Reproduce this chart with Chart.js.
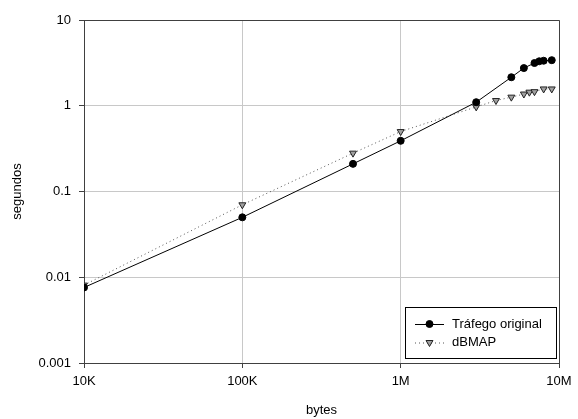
<!DOCTYPE html>
<html>
<head>
<meta charset="utf-8">
<script src="https://cdn.jsdelivr.net/npm/chart.js@4/dist/chart.umd.min.js"></script>
<style>
  html, body { margin: 0; padding: 0; background: #fff; }
  #wrap { width: 578px; height: 419px; }
</style>
</head>
<body>
<div id="wrap"><canvas id="chart" width="578" height="419"></canvas></div>
<script>
// Tempo de transferência vs. tamanho (escala log-log)
const X_TICKS = [1e4, 1e5, 1e6, 1e7];
const X_LABELS = ["10K", "100K", "1M", "10M"];
const Y_TICKS = [0.001, 0.01, 0.1, 1, 10];
const Y_LABELS = ["0.001", "0.01", "0.1", "1", "10"];

const TRAFEGO_X = [1e4, 1e5, 5e5, 1e6, 3e6, 5e6, 6e6, 7e6, 7.5e6, 8e6, 9e6];
const TRAFEGO_Y = [0.0076, 0.05, 0.21, 0.39, 1.1, 2.15, 2.75, 3.15, 3.3, 3.35, 3.4];

const DBMAP_X = [1e4, 1e5, 5e5, 1e6, 3e6, 4e6, 5e6, 6e6, 6.5e6, 7e6, 8e6, 9e6];
const DBMAP_Y = [0.0081, 0.07, 0.28, 0.5, 0.97, 1.15, 1.26, 1.37, 1.44, 1.46, 1.57, 1.57];

const FONT = "'Liberation Sans', Arial, sans-serif";
const FONT_SIZE = 13;
const AXIS_COLOR = "#404040";

const pts = (xs, ys) => xs.map((x, i) => ({ x, y: ys[i] }));

// moldura superior/direita + legenda dentro da área do gráfico
const framePlugin = {
  id: "frame",
  afterDraw(chart) {
    const { ctx, chartArea: a } = chart;
    ctx.save();
    ctx.strokeStyle = AXIS_COLOR;
    ctx.lineWidth = 1;
    ctx.beginPath();
    ctx.moveTo(a.left, a.top + 0.5);
    ctx.lineTo(a.right + 0.5, a.top + 0.5);
    ctx.lineTo(a.right + 0.5, a.bottom);
    ctx.stroke();

    // legenda
    const w = 151, h = 51;
    const bx = a.right - 3 - w, by = a.bottom - 5 - h;
    ctx.fillStyle = "#fff";
    ctx.fillRect(bx, by, w, h);
    ctx.strokeStyle = "#000";
    ctx.strokeRect(bx + 0.5, by + 0.5, w, h);

    ctx.font = FONT_SIZE + "px " + FONT;
    ctx.textBaseline = "middle";
    chart.data.datasets.forEach((ds, i) => {
      const cy = by + 17 + i * 18.5;
      const x0 = bx + 10, x1 = bx + 39, xm = (x0 + x1) / 2;
      ctx.save();
      ctx.strokeStyle = ds.borderColor;
      ctx.lineWidth = ds.borderWidth;
      ctx.setLineDash(ds.borderDash || []);
      ctx.beginPath();
      ctx.moveTo(x0, cy + 0.5);
      ctx.lineTo(x1, cy + 0.5);
      ctx.stroke();
      ctx.restore();
      ctx.save();
      ctx.fillStyle = ds.pointBackgroundColor;
      ctx.strokeStyle = ds.pointBorderColor;
      ctx.lineWidth = 1;
      Chart.helpers.drawPoint(ctx, {
        pointStyle: ds.pointStyle,
        rotation: ds.pointRotation || 0,
        radius: ds.pointRadius,
        borderWidth: 1,
      }, xm, cy);
      ctx.restore();
      ctx.fillStyle = "#000";
      ctx.textAlign = "left";
      ctx.fillText(ds.label, bx + 47, cy);
    });
    ctx.restore();
  },
};

new Chart(document.getElementById("chart"), {
  type: "line",
  data: {
    datasets: [
      {
        label: "Tráfego original",
        data: pts(TRAFEGO_X, TRAFEGO_Y),
        borderColor: "#000",
        borderWidth: 1,
        pointStyle: "circle",
        pointRadius: 3.5,
        pointBackgroundColor: "#000",
        pointBorderColor: "#000",
        tension: 0,
      },
      {
        label: "dBMAP",
        data: pts(DBMAP_X, DBMAP_Y),
        borderColor: "#555",
        borderWidth: 1,
        borderDash: [1, 3],
        pointStyle: "triangle",
        pointRotation: 180,
        pointRadius: 4,
        pointBackgroundColor: "#a0a0a0",
        pointBorderColor: "#222",
        tension: 0,
      },
    ],
  },
  options: {
    responsive: false,
    animation: false,
    layout: { padding: { top: 20, right: 19, left: 0, bottom: 0 } },
    plugins: { legend: { display: false }, tooltip: { enabled: false } },
    scales: {
      x: {
        type: "logarithmic",
        min: 1e4,
        max: 1e7,
        afterFit: (s) => { s.height = 56; },
        afterBuildTicks: (s) => { s.ticks = X_TICKS.map((v) => ({ value: v })); },
        ticks: {
          callback: (v, i) => X_LABELS[i],
          font: { family: FONT, size: FONT_SIZE },
          color: "#000",
          padding: 6,
          maxRotation: 0,
          autoSkip: false,
        },
        grid: { color: "#c8c8c8", lineWidth: 1, tickLength: 5, tickColor: AXIS_COLOR },
        border: { color: AXIS_COLOR, width: 1 },
        title: {
          display: true,
          text: "bytes",
          font: { family: FONT, size: FONT_SIZE },
          color: "#000",
          padding: { top: 0, bottom: 1 },
        },
      },
      y: {
        type: "logarithmic",
        min: 0.001,
        max: 10,
        afterFit: (s) => { s.width = 84; },
        afterBuildTicks: (s) => { s.ticks = Y_TICKS.map((v) => ({ value: v })); },
        ticks: {
          callback: (v, i) => Y_LABELS[i],
          font: { family: FONT, size: FONT_SIZE },
          color: "#000",
          padding: 8,
          autoSkip: false,
        },
        grid: { color: "#c8c8c8", lineWidth: 1, tickLength: 5, tickColor: AXIS_COLOR },
        border: { color: AXIS_COLOR, width: 1 },
        title: {
          display: true,
          text: "segundos",
          font: { family: FONT, size: FONT_SIZE },
          color: "#000",
          padding: { top: 10, bottom: 0 },
        },
      },
    },
  },
  plugins: [framePlugin],
});
</script>
</body>
</html>
